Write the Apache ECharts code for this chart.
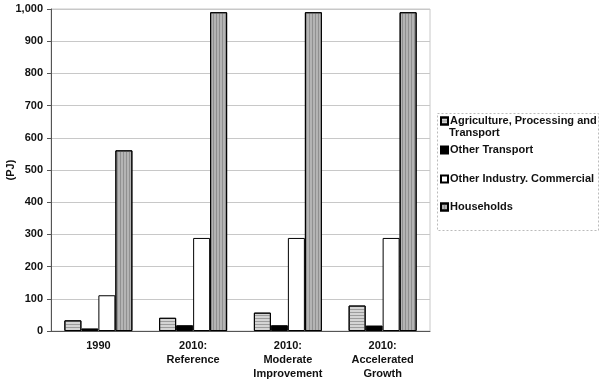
<!DOCTYPE html>
<html><head><meta charset="utf-8">
<script src="https://cdn.jsdelivr.net/npm/echarts@6/dist/echarts.min.js"></script>
<style>html,body{margin:0;padding:0;background:#fff}#c{width:599px;height:385px}</style>
</head><body><div id="c"></div>
<script>
var categories = ['1990', '2010:\nReference', '2010:\nModerate\nImprovement', '2010:\nAccelerated\nGrowth'];
var agriculture = [33, 41, 57, 79];
var otherTransport = [8, 18, 18, 17];
var otherIndustry = [111, 289, 289, 289];
var households = [561, 990, 990, 990];
var yTicks = [0, 100, 200, 300, 400, 500, 600, 700, 800, 900, 1000];
var seriesNames = ['Agriculture, Processing and Transport', 'Other Transport', 'Other Industry. Commercial', 'Households'];
var legendLabels = ['Agriculture, Processing and', 'Other Transport', 'Other Industry. Commercial', 'Households'];

var font = 'Liberation Sans, Arial, sans-serif';
var chart = echarts.init(document.getElementById('c'));
function fmt(v){ return v >= 1000 ? (Math.floor(v/1000) + ',' + String(v%1000).padStart(3,'0')) : String(v); }
var styles = [
  {color:'#d4d4d4', borderColor:'#000', borderWidth:1, decal:{symbol:'rect', dashArrayX:[1,0], dashArrayY:[1,2], symbolSize:1, color:'rgba(110,110,110,0.55)'}},
  {color:'#000', borderColor:'#000', borderWidth:1},
  {color:'#fff', borderColor:'#000', borderWidth:1},
  {color:'#b4b4b4', borderColor:'#000', borderWidth:1, decal:{symbol:'rect', dashArrayX:[1,2], dashArrayY:[1,0], symbolSize:1, color:'rgba(120,120,120,0.6)'}}
];
var datas = [agriculture, otherTransport, otherIndustry, households];
var legendTops = [110, 139, 168, 196];
var legends = seriesNames.map(function(n, i){
  return {
    data:[n], orient:'vertical', left:435, top:legendTops[i],
    itemWidth:7, itemHeight:7, itemGap:0, icon:'rect',
    formatter:function(){ return legendLabels[i]; },
    textStyle:{fontFamily:font, fontWeight:'bold', fontSize:11, color:'#111', lineHeight:12, padding:[0,0,0,-3]},
    selectedMode:false
  };
});
chart.setOption({
  animation:false,
  aria:{enabled:false, decal:{show:true}},
  grid:{left:51, right:169, top:9, bottom:54, show:true, borderColor:'#c8c8c8', borderWidth:1, outerBoundsMode:'none', containLabel:false},
  legend: legends,
  graphic:[
    {type:'rect', left:435, top:111, shape:{width:161, height:117}, style:{fill:'none', stroke:'#bbb', lineWidth:1, lineDash:[2,2]}, silent:true},
    {type:'text', left:449, top:127, style:{text:'Transport', font:'bold 11px Liberation Sans, Arial, sans-serif', fill:'#111'}, silent:true}
  ],
  xAxis:{
    type:'category', data:categories,
    axisLine:{lineStyle:{color:'#555'}}, axisTick:{show:false},
    axisLabel:{fontFamily:font, fontWeight:'bold', fontSize:11, color:'#111', lineHeight:14, margin:8, interval:0}
  },
  yAxis:{
    type:'value', min:0, max:1000, interval:100,
    name:'(PJ)', nameLocation:'middle', nameGap:35, nameRotate:90, nameMoveOverlap:false,
    nameTextStyle:{fontFamily:font, fontWeight:'bold', fontSize:11, color:'#111'},
    axisLine:{show:true, lineStyle:{color:'#555'}},
    axisTick:{show:true, length:4, lineStyle:{color:'#555'}},
    splitLine:{lineStyle:{color:'#c8c8c8'}},
    axisLabel:{fontFamily:font, fontWeight:'bold', fontSize:11, color:'#111', margin:8, formatter:function(v){return yTicks.indexOf(v)>=0?fmt(v):'';}}
  },
  series: datas.map(function(d, i){
    return {name:seriesNames[i], type:'bar', data:d, barWidth:17, barGap:'0%', itemStyle:styles[i]};
  })
});
</script></body></html>
